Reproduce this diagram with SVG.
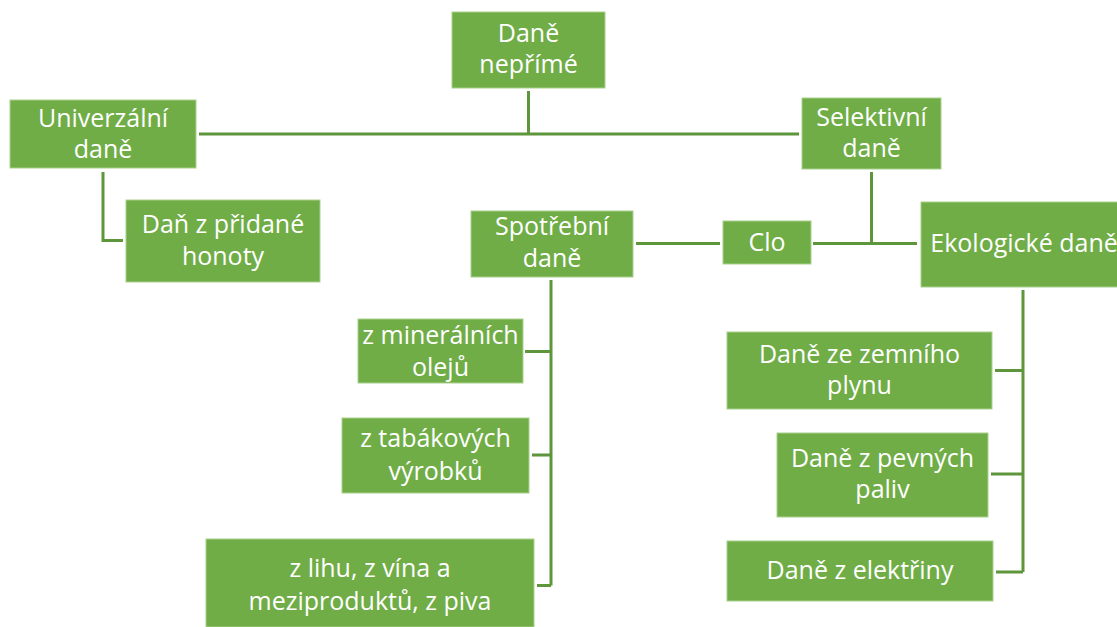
<svg xmlns="http://www.w3.org/2000/svg" width="1117" height="627" viewBox="0 0 1117 627">
<style>
.box{fill:#70AD47;stroke:#A9D18E;stroke-width:1}
.t{font-family:"Open Sans","Noto Sans",sans-serif;font-size:25px;fill:#ffffff;text-anchor:middle}
.c{fill:none;stroke:#5E963C;stroke-width:3}
</style>
<rect width="1117" height="627" fill="#ffffff"/>
<g id="connectors">
<path class="c" d="M528.5,91 V134 M199,134 H799"/>
<path class="c" d="M103,172 V240.5 H123"/>
<path class="c" d="M871.5,172 V243.5 M636,243.5 H720 M813,243.5 H917"/>
<path class="c" d="M551,280 V585.5 M525,351.5 H551 M532,455 H551 M537,585.5 H551"/>
<path class="c" d="M1023,290 V572 M995,370.5 H1023 M991,474 H1023 M996,572 H1023"/>
</g>
<g id="n-neprime"><rect class="box" x="452" y="12" width="153" height="76"/><text class="t" x="528.5" y="42">Daně</text><text class="t" x="528.5" y="73">nepřímé</text></g>
<g id="n-univerzalni"><rect class="box" x="10" y="100" width="186" height="68"/><text class="t" x="103" y="127">Univerzální</text><text class="t" x="103" y="158">daně</text></g>
<g id="n-selektivni"><rect class="box" x="802" y="98" width="139" height="71"/><text class="t" x="871.5" y="126">Selektivní</text><text class="t" x="871.5" y="157">daně</text></g>
<g id="n-dph"><rect class="box" x="126" y="200" width="194" height="82"/><text class="t" x="223" y="233">Daň z přidané</text><text class="t" x="223" y="265">honoty</text></g>
<g id="n-spotrebni"><rect class="box" x="471" y="211" width="162" height="66"/><text class="t" x="552" y="235">Spotřební</text><text class="t" x="552" y="267">daně</text></g>
<g id="n-clo"><rect class="box" x="723" y="221" width="88" height="43"/><text class="t" x="767" y="251">Clo</text></g>
<g id="n-ekologicke"><rect class="box" x="921" y="202" width="206" height="85"/><text class="t" x="1024" y="252">Ekologické daně</text></g>
<g id="n-mineralni"><rect class="box" x="358" y="319" width="165" height="64"/><text class="t" x="440.5" y="344">z minerálních</text><text class="t" x="440.5" y="376">olejů</text></g>
<g id="n-tabakove"><rect class="box" x="342" y="418" width="187" height="75"/><text class="t" x="435.5" y="447">z tabákových</text><text class="t" x="435.5" y="480">výrobků</text></g>
<g id="n-lihu"><rect class="box" x="206" y="539" width="328" height="88"/><text class="t" x="370" y="577">z lihu, z vína a</text><text class="t" x="370" y="610">meziproduktů, z piva</text></g>
<g id="n-plyn"><rect class="box" x="727" y="332" width="265" height="77"/><text class="t" x="859.5" y="363">Daně ze zemního</text><text class="t" x="859.5" y="394">plynu</text></g>
<g id="n-paliva"><rect class="box" x="777" y="433" width="211" height="84"/><text class="t" x="882.5" y="467">Daně z pevných</text><text class="t" x="882.5" y="498">paliv</text></g>
<g id="n-elektrina"><rect class="box" x="727" y="541" width="266" height="60"/><text class="t" x="860" y="579">Daně z elektřiny</text></g>
</svg>
